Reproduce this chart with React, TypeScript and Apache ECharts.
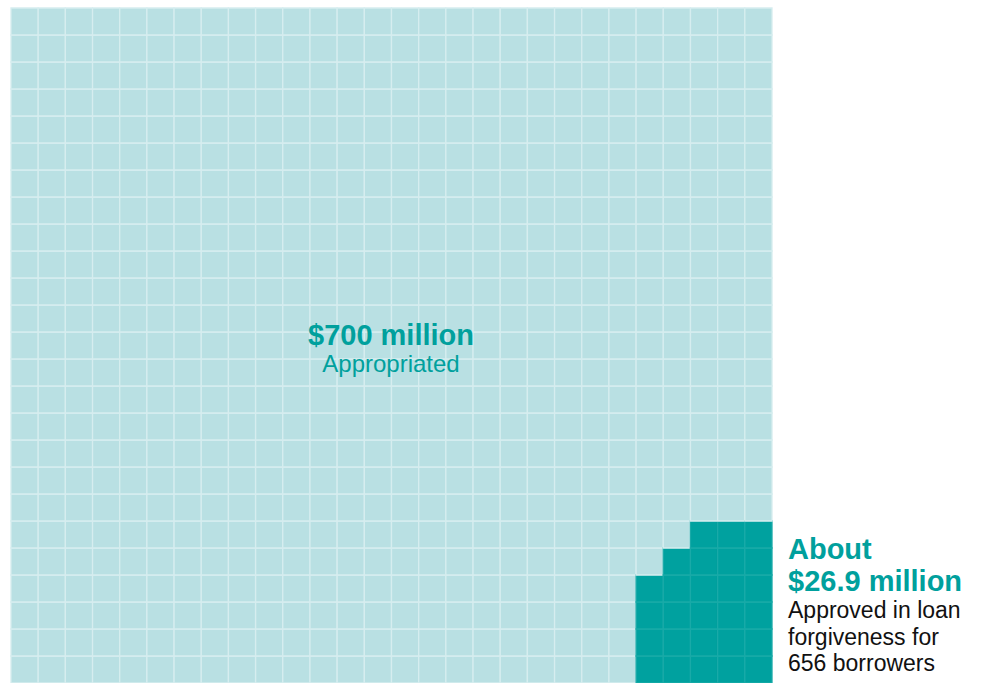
import React, { useEffect, useRef } from "react";
import * as echarts from "echarts";

// Waffle grid: each cell = $1 million, 28 x 25 = 700 cells
const columns: string[] = Array.from({ length: 28 }, (_, i) => "c" + i);
const rows: string[] = Array.from({ length: 25 }, (_, i) => "r" + i);
const appropriatedMillions = 700;
// approved cells per column, for the last five columns (bottom-up)
const approvedCellsPerColumn = [4, 5, 6, 6, 6];
const mainLabel = ["$700 million", "Appropriated"];
const sideLabelBold = ["About", "$26.9 million"];
const sideLabelText = ["Approved in loan", "forgiveness for", "656 borrowers"];

const LIGHT = "#b9e0e3";
const LIGHT_LINE = "#d6edef";
const DARK = "#00a19f";
const DARK_LINE = "#19aaa8";
const TEAL_TEXT = "#00a09d";
const FONT = "'Liberation Sans', Arial, sans-serif";

function buildCells() {
  const cells: number[][] = [];
  const nCols = columns.length;
  const offset = nCols - approvedCellsPerColumn.length;
  let count = 0;
  for (let c = 0; c < nCols; c++) {
    for (let r = 0; r < rows.length; r++) {
      if (count >= appropriatedMillions) break;
      const h = c >= offset ? approvedCellsPerColumn[c - offset] : 0;
      cells.push([c, r, r < h ? 1 : 0]);
      count++;
    }
  }
  return cells;
}

export default function App() {
  const ref = useRef<HTMLDivElement>(null);
  useEffect(() => {
    document.body.style.margin = "0";
    const chart = echarts.init(ref.current!, undefined, { renderer: "svg" });
    const cells = buildCells();
    chart.setOption({
      animation: false,
      backgroundColor: "#ffffff",
      grid: { left: 11, top: 8, right: 213, bottom: -1 },
      xAxis: { type: "category", data: columns, show: false },
      yAxis: { type: "category", data: rows, show: false },
      series: [
        {
          type: "custom",
          data: cells,
          renderItem: (params: any, api: any) => {
            const x = api.value(0);
            const y = api.value(1);
            const v = api.value(2);
            const p = api.coord([x, y]);
            const s = api.size([1, 1]);
            return {
              type: "rect",
              shape: { x: p[0] - s[0] / 2, y: p[1] - s[1] / 2, width: s[0], height: s[1] },
              style: {
                fill: v ? DARK : LIGHT,
                stroke: v ? DARK_LINE : LIGHT_LINE,
                lineWidth: 1.3,
              },
            };
          },
        },
      ],
      graphic: [
        {
          type: "text",
          x: 391,
          y: 335,
          z: 10,
          style: {
            text: mainLabel[0],
            fill: TEAL_TEXT,
            font: `bold 29px ${FONT}`,
            textAlign: "center",
            textVerticalAlign: "middle",
          },
        },
        {
          type: "text",
          x: 391,
          y: 363,
          z: 10,
          style: {
            text: mainLabel[1],
            fill: TEAL_TEXT,
            font: `24px ${FONT}`,
            textAlign: "center",
            textVerticalAlign: "middle",
          },
        },
        ...sideLabelBold.map((t, i) => ({
          type: "text",
          x: 788,
          y: 549 + i * 32,
          z: 10,
          style: {
            text: t,
            fill: TEAL_TEXT,
            font: `bold 29px ${FONT}`,
            textAlign: "left",
            textVerticalAlign: "middle",
          },
        })),
        ...sideLabelText.map((t, i) => ({
          type: "text",
          x: 788,
          y: 610 + i * 26.5,
          z: 10,
          style: {
            text: t,
            fill: "#111111",
            font: `23px ${FONT}`,
            textAlign: "left",
            textVerticalAlign: "middle",
          },
        })),
      ],
    });
    return () => chart.dispose();
  }, []);
  return <div ref={ref} style={{ width: 985, height: 683 }} />;
}
